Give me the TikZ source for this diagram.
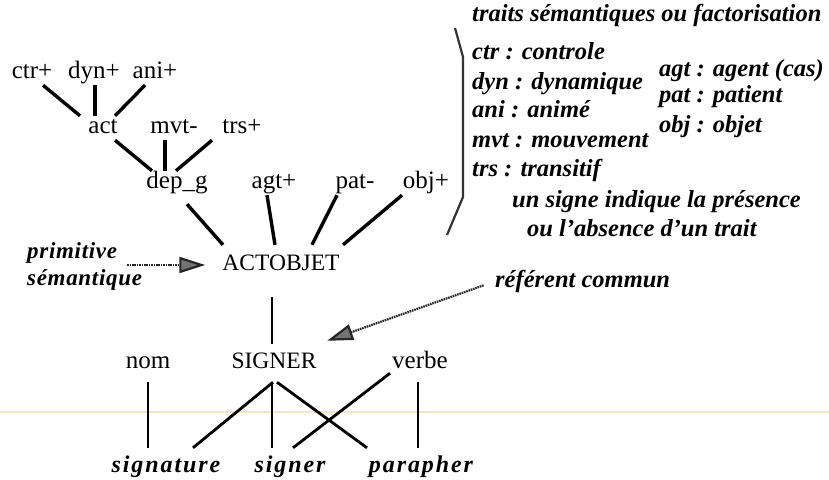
\documentclass[tikz,border=0pt]{standalone}
\usepackage{fontspec}
\setmainfont{Liberation Serif}
\newfontfamily\widefont[LetterSpace=8]{Liberation Serif}
\newfontfamily\sidefont[LetterSpace=3]{Liberation Serif}
\usetikzlibrary{arrows.meta}

\begin{document}
\begin{tikzpicture}[x=1pt,y=-1pt,
    lbl/.style={font=\fontsize{25}{28}\selectfont, anchor=base, inner sep=2pt, text height=15pt, text depth=5pt},
    low/.style={lbl, inner ysep=9pt},
    caps/.style={font=\fontsize{23.5}{28}\selectfont},
    note/.style={font=\fontsize{24.5}{28}\selectfont\bfseries\itshape, anchor=base west, inner sep=2pt, text height=15pt, text depth=5pt},
    side/.style={note, font=\fontsize{23}{28}\selectfont\sidefont\bfseries\itshape},
    word/.style={font=\fontsize{24}{28}\selectfont\widefont\bfseries\itshape, anchor=base, inner xsep=2pt, inner ysep=9pt, text height=15pt, text depth=5pt},
    feat/.style={line width=3.4pt},
    lex/.style={line width=2.8pt},
    ptr/.style={draw=black!85, line width=2.2pt, dash pattern=on 1.6pt off 0.8pt, -{Triangle[length=26pt,width=16pt,fill=black!55]}}]
  \useasboundingbox (0,0) rectangle (829,479);
  % scan line
  \draw[line width=2.5pt, color={rgb,255:red,243;green,232;blue,196}] (0,412) -- (829,412);

  % semantic traits
  \node[lbl] (ctr) at (32,78) {ctr+};
  \node[lbl] (dyn) at (94,78) {dyn+};
  \node[lbl] (ani) at (155,78) {ani+};
  \node[lbl] (act) at (103,133) {act};
  \node[lbl] (mvt) at (174,133) {mvt-};
  \node[lbl] (trs) at (242,133) {trs+};
  \node[lbl] (dep) at (177,188) {dep\_g};
  \node[lbl] (agt) at (274,188) {agt+};
  \node[lbl] (pat) at (355,188) {pat-};
  \node[lbl] (obj) at (426,188) {obj+};
  \node[lbl,caps,inner ysep=10pt] (actobjet) at (281,270) {ACTOBJET};

  \draw[feat] ([xshift=11pt]ctr.south) -- ([xshift=-23pt]act.north);
  \draw[feat] ([xshift=1pt]dyn.south) -- ([xshift=-8pt]act.north);
  \draw[feat] ([xshift=-10pt]ani.south) -- ([xshift=12pt]act.north);
  \draw[feat] ([xshift=12pt]act.south) -- ([xshift=-25pt]dep.north);
  \draw[feat] ([xshift=-9pt]mvt.south) -- ([xshift=-12pt]dep.north);
  \draw[feat] ([xshift=-30pt]trs.south) -- ([xshift=-1pt]dep.north);
  \draw[feat] ([xshift=10pt,yshift=-9pt]dep.south) -- ([xshift=-58pt]actobjet.north);
  \draw[feat] ([xshift=-7pt]agt.south) -- ([xshift=-6pt]actobjet.north);
  \draw[feat] ([xshift=-18pt]pat.south) -- ([xshift=31pt]actobjet.north);
  \draw[feat] ([xshift=-24pt]obj.south) -- ([xshift=62pt]actobjet.north);

  % lexical level
  \node[low,caps] (signer) at (274,368) {SIGNER};
  \node[low] (nom) at (148,368) {nom};
  \node[low] (verbe) at (420,368) {verbe};
  \node[word] (signature) at (166,472) {signature};
  \node[word] (wsigner) at (290,472) {signer};
  \node[word] (parapher) at (421,472) {parapher};

  \draw[lex] ([xshift=-9pt,yshift=-12pt]actobjet.south) -- ([xshift=-2pt]signer.north);
  \draw[lex] (nom.south) -- (nom.south |- signature.north);
  \draw[lex] ([xshift=-1pt]signer.south) -- ([xshift=27pt]signature.north);
  \draw[lex] ([xshift=-2pt]signer.south) -- ([xshift=-18pt]wsigner.north);
  \draw[lex] ([xshift=3pt]signer.south) -- ([xshift=-54pt]parapher.north);
  \draw[lex] ([yshift=9pt]verbe.south west) -- ([xshift=3pt]wsigner.north);
  \draw[lex] ([xshift=-2pt]verbe.south) -- ([xshift=-3pt]parapher.north);

  % legend
  \draw[line width=2.2pt, black!80, line join=round] (455,28) -- (463,57) -- (463,197) -- (447,235);
  \node[note] (title) at (470,21) {traits sémantiques ou factorisation};
  \node[note] (kctr) at (470,59) {ctr : controle};
  \node[note] (kdyn) at (470,89) {dyn : dynamique};
  \node[note] (kani) at (470,117) {ani : animé};
  \node[note] (kmvt) at (470,147) {mvt : mouvement};
  \node[note] (ktrs) at (470,176) {trs : transitif};
  \node[note] (kagt) at (657,76) {agt : agent (cas)};
  \node[note] (kpat) at (657,102) {pat : patient};
  \node[note] (kobj) at (657,132) {obj : objet};
  \node[note] (sign1) at (510,207) {un signe indique la présence};
  \node[note] (sign2) at (525,236) {ou l'absence d'un trait};

  % pointers
  \node[side] (prim) at (25,258) {primitive};
  \node[side] (sem) at (25,285) {sémantique};
  \node[note] (ref) at (493,287) {référent commun};
  \draw[ptr, shorten <=8pt, shorten >=15pt] (prim.east |- actobjet) -- (actobjet.west);
  \draw[ptr, shorten <=10pt, shorten >=9pt] (ref.west) -- (signer.north east);
\end{tikzpicture}
\end{document}
